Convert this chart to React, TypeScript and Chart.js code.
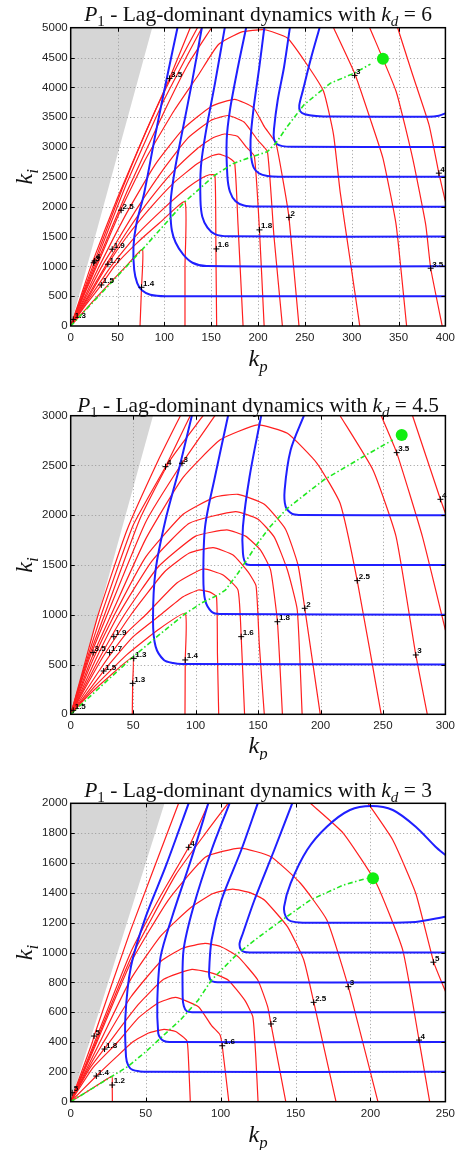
import React, { useEffect, useRef } from "react";
import { Chart, registerables } from "chart.js";

Chart.register(...registerables);

type Pt = [number, number];
type Lbl = [string, number, number];

// ================= Panel 1 : kd = 6 =================
const p1Kd = "6";
const p1XMax = 400;
const p1XStep = 50;
const p1YMax = 5000;
const p1YStep = 500;
const p1Grey: Pt[] = [[0, 0], [87, 5000]];
const p1Red: Pt[][] = [
  [[0, 0], [20, 350], [40, 690], [58.9, 1000], [76.6, 1285], [75.6, 649], [74, 0]],
  [[0, 0], [15, 330], [32.7, 688], [46.6, 1000], [70, 1380], [95, 1730], [122, 2084], [122, 1000], [122, 0]],
  [[0, 0], [20, 470], [43.1, 1000], [70, 1520], [100, 1980], [125, 2320], [140, 2480], [148, 2535], [154, 2528], [155, 1292], [155.8, 0]],
  [[0, 0], [20, 510], [39.6, 1035], [60, 1500], [85, 1980], [110, 2400], [135, 2720], [150, 2850], [158, 2880], [168, 2830], [175, 2737], [178.6, 1700], [184, 0]],
  [[0, 0], [18, 490], [36.8, 1000], [60, 1580], [85, 2130], [110, 2600], [135, 2970], [150, 3140], [164, 3218], [178, 3180], [187, 3006], [196, 2850], [201.5, 1611], [206.5, 0]],
  [[0, 0], [16, 480], [33.3, 1000], [44.3, 1287], [70, 1950], [100, 2650], [125, 3150], [150, 3450], [168, 3528], [185, 3420], [199.6, 3117], [210, 2922], [217, 1500], [226, 0]],
  [[0, 0], [15, 490], [30.5, 1000], [60, 1900], [90, 2700], [120, 3300], [150, 3680], [175, 3799], [195, 3660], [206.7, 3341], [219, 3061], [226, 2500], [233, 1820], [243.7, 0]],
  [[0, 0], [14, 510], [27.7, 1000], [53.8, 1958], [80, 2800], [110, 3600], [136.4, 4211], [157.5, 4715], [182, 4927], [206.8, 4966], [231.3, 4827], [252.4, 4379], [270, 3931], [280.6, 3205], [287.6, 2253], [298, 1136], [308.6, 0]],
  [[0, 0], [13.2, 500], [26.5, 1000], [60, 2250], [100, 3600], [125, 4380], [150.4, 5000]],
  [[280.6, 5000], [303, 4240], [320, 3460], [333.3, 2813], [347.4, 1695], [358.6, 0]],
  [[0, 0], [10.8, 500], [21.5, 1000], [50, 2150], [80, 3250], [105.5, 4150], [127.6, 5000]],
  [[319.2, 5000], [347.4, 3931], [365, 2813], [379, 1695], [384.3, 968], [396.6, 0]],
  [[0, 0], [11.7, 500], [23.5, 1000], [55, 2300], [90, 3600], [115, 4400], [135.3, 5000]],
  [[349, 5000], [365, 4211], [382.5, 3372], [393, 2562], [400, 2085]],
  [[0, 0], [12.5, 500], [25, 1000], [60, 2400], [100, 3800], [140, 5000]],
];
const p1Blue: Pt[][] = [
  [[114, 5000], [103, 4183], [90.7, 3233], [78.4, 2226], [70, 1700], [67, 1331], [67.8, 940], [71, 720], [76, 600], [85, 525], [101, 500], [400, 500]],
  [[140, 5000], [129.3, 4072], [118.8, 3233], [111.8, 2673], [107, 2150], [106.5, 1891], [108, 1600], [112, 1400], [120, 1200], [130, 1060], [145, 1005], [400, 1000]],
  [[164.5, 5000], [154, 4067], [144, 3229], [139, 2670], [138.5, 2112], [140.5, 1832], [146, 1650], [154, 1540], [168, 1503], [400, 1500]],
  [[187.3, 5000], [178.6, 4346], [170, 3620], [166.5, 3117], [167.3, 2503], [170, 2250], [176, 2090], [185, 2020], [198, 2003], [400, 2000]],
  [[206.7, 5000], [201.4, 4346], [195, 3620], [192, 3117], [192.6, 2838], [195.5, 2650], [201, 2560], [210, 2515], [222, 2503], [400, 2500]],
  [[234, 5000], [227.8, 4346], [221, 3788], [217, 3300], [217, 3140], [220, 3050], [226, 3015], [236, 3003], [400, 3000]],
  [[265.7, 5000], [256, 4458], [248, 3955], [244, 3700], [245, 3600], [250, 3550], [262, 3520], [280, 3510], [382, 3508], [393, 3525], [400, 3564]],
];
const p1Green: Pt[] = [[0, 0], [76.6, 1285], [122, 2084], [154, 2530], [174.4, 2730], [196, 2850], [210, 2922], [219, 3065], [231, 3340], [249, 3708], [277, 4067], [303, 4240], [320, 4390]];
const p1Dot: Pt = [333.3, 4480];
const p1Labels: Lbl[] = [
  ["1.4", 75.6, 649], ["1.6", 155.5, 1292], ["1.8", 201.5, 1611], ["2", 233, 1820], ["3", 303, 4200],
  ["4", 393, 2562], ["3.5", 384.3, 968], ["3.5", 105.5, 4150], ["2.5", 53.8, 1940], ["1.9", 44.3, 1287],
  ["1.7", 39.7, 1035], ["1.5", 32.7, 688], ["3", 24.5, 1060], ["4", 25.5, 1090], ["1.3", 2.7, 110],
];

// ================= Panel 2 : kd = 4.5 =================
const p2Kd = "4.5";
const p2XMax = 300;
const p2XStep = 50;
const p2YMax = 3000;
const p2YStep = 500;
const p2Grey: Pt[] = [[0, 0], [65.9, 3000]];
const p2Red: Pt[][] = [
  [[0, 0], [15, 200], [30, 370], [49.6, 573], [49.6, 311], [49.3, 0]],
  [[0, 0], [20, 290], [45, 600], [70, 850], [91.7, 1015], [91.7, 546], [91.5, 0]],
  [[0, 0], [26.4, 435], [50, 780], [72, 1000], [90, 1180], [102.3, 1249], [111, 1230], [116.7, 1182], [117.5, 600], [118.5, 0]],
  [[0, 0], [24, 460], [45, 820], [60.1, 1000], [85, 1320], [106, 1460], [122, 1400], [133.9, 1250], [136.5, 780], [139.2, 0]],
  [[0, 0], [25, 560], [48.2, 1000], [75, 1430], [95, 1620], [114, 1675], [130, 1600], [142, 1430], [148.4, 1290], [151, 700], [155, 0]],
  [[0, 0], [22, 540], [43, 1000], [70, 1480], [100, 1790], [125, 1852], [140, 1790], [152, 1650], [160, 1450], [165.5, 930], [169.5, 0]],
  [[0, 0], [20, 550], [38.2, 1000], [65, 1540], [95, 1920], [132, 2036], [150, 1960], [163, 1780], [173.5, 1450], [181.4, 1048], [185.3, 0]],
  [[0, 0], [17.5, 540], [35, 1000], [60, 1580], [90, 2010], [115, 2180], [134, 2210], [155, 2110], [172, 1860], [182, 1500], [187.4, 1065], [199.8, 0]],
  [[0, 0], [16, 540], [32.4, 1000], [60, 1760], [90, 2380], [120, 2760], [149.7, 2907], [173.5, 2823], [197.2, 2522], [215.7, 2120], [229.4, 1343], [248.6, 0]],
  [[0, 0], [14.6, 550], [29.2, 1000], [60, 1930], [89.1, 2522], [115.5, 3000]],
  [[215.7, 3000], [242, 2455], [260.5, 1785], [276.3, 596], [285.5, 0]],
  [[0, 0], [13.2, 530], [27.1, 1000], [55, 1950], [80, 2560], [106, 3000]],
  [[248.6, 3000], [261, 2629], [281.6, 1785], [300, 847]],
  [[0, 0], [12.2, 520], [24.5, 1000], [50, 1900], [75.9, 2488], [95.7, 3000]],
  [[273.7, 3000], [296, 2160], [300, 2020]],
  [[0, 0], [11, 500], [22, 1000], [45, 1850], [70, 2550], [87.8, 3000]],
];
const p2Blue: Pt[][] = [
  [[97, 3000], [86.5, 2455], [75.9, 1952], [68, 1450], [65.9, 948], [68, 680], [74.6, 546], [82, 515], [89.1, 506], [300, 500]],
  [[126, 3000], [115.5, 2387], [107.6, 1885], [106.2, 1382], [107.6, 1148], [112.8, 1031], [119.4, 1008], [300, 1000]],
  [[152.5, 3000], [143.2, 2387], [137.9, 1885], [137.9, 1618], [140.5, 1510], [146, 1501], [300, 1500]],
  [[186.7, 3000], [176.1, 2655], [171.3, 2254], [172.1, 2086], [177.4, 2013], [183, 2003], [300, 2000]],
];
const p2Green: Pt[] = [[0, 0], [25, 290], [49.6, 573], [70, 790], [91.7, 1010], [105, 1120], [118.1, 1199], [124, 1250], [133.9, 1417], [149.7, 1718], [160, 1890], [173.5, 2070], [202.5, 2354], [234.1, 2588], [257.8, 2756]];
const p2Dot: Pt = [265, 2805];
const p2Labels: Lbl[] = [
  ["1.3", 49.6, 311], ["1.3", 50.5, 562], ["1.4", 91.7, 546], ["1.6", 136.5, 780], ["1.8", 165.5, 930],
  ["2", 187.4, 1065], ["2.5", 229.4, 1343], ["3", 276.3, 596], ["3.5", 261, 2629], ["4", 296, 2160],
  ["4", 75.9, 2488], ["3", 89.1, 2522], ["3.5", 17.9, 620], ["1.7", 31.1, 620], ["1.5", 26.4, 435],
  ["1.9", 34.5, 780], ["1.5", 2, 40],
];

// ================= Panel 3 : kd = 3 =================
const p3Kd = "3";
const p3XMax = 250;
const p3XStep = 50;
const p3YMax = 2000;
const p3YStep = 200;
const p3Grey: Pt[] = [[0, 0], [62.6, 2000]];
const p3Red: Pt[][] = [
  [[0, 0], [10, 62], [20, 125], [27.5, 170], [27.7, 112], [27.8, 0]],
  [[0, 0], [17.1, 172], [30, 295], [41.3, 400], [52, 460], [62.2, 485], [70, 470], [77.5, 409], [78.5, 300], [79.8, 0]],
  [[0, 0], [15, 230], [31.4, 400], [45, 560], [58, 660], [69.9, 699], [85.2, 637], [94, 510], [99.5, 450], [101.1, 375], [105.5, 0]],
  [[0, 0], [12.5, 220], [25.9, 400], [45, 650], [62, 820], [80.9, 887], [95, 860], [105, 816], [116, 682], [121.5, 570], [123.5, 300], [125, 0]],
  [[0, 0], [11, 210], [22, 400], [40, 700], [60, 940], [75, 1030], [89.6, 1061], [100, 1040], [111.6, 972], [124.8, 816], [131.4, 637], [133.6, 521], [143.5, 0]],
  [[0, 0], [9.7, 200], [19.5, 400], [40, 820], [60, 1110], [80, 1300], [95, 1395], [108, 1425], [120, 1400], [129.2, 1352], [144.6, 1173], [155.5, 950], [162.1, 670], [177, 0]],
  [[0, 0], [8.8, 200], [17.5, 400], [40, 930], [65, 1350], [90, 1640], [113, 1700], [133.6, 1642], [153.3, 1464], [170.9, 1218], [185.2, 771], [205, 0]],
  [[0, 0], [8, 200], [16, 400], [40, 1000], [60, 1380], [78.7, 1705], [92, 2000]],
  [[159.9, 2000], [181.9, 1799], [203.9, 1464], [221.5, 1017], [232.4, 413], [239.5, 0]],
  [[0, 0], [7.2, 200], [14.5, 400], [15.6, 440], [40, 1150], [72, 2000]],
  [[198.4, 2000], [214.9, 1754], [230.2, 1397], [242.3, 932], [250, 740]],
  [[0, 0], [8.4, 200], [16.8, 400], [40, 960], [70, 1520], [90, 1800], [105, 2000]],
];
const p3Blue: Pt[][] = [
  [[78.7, 2000], [63.3, 1575], [50.1, 1240], [40.2, 905], [36.5, 570], [36.9, 302], [38.5, 240], [41.3, 213], [46, 203], [52, 200], [250, 200]],
  [[91.8, 2000], [80.9, 1642], [67.7, 1240], [60, 972], [57.8, 682], [58.4, 458], [60, 425], [62.2, 407], [66, 400], [250, 400]],
  [[106, 2000], [94, 1687], [81.9, 1307], [75.3, 1017], [74.7, 704], [75.5, 640], [77.5, 606], [81, 600], [250, 600]],
  [[124.8, 2000], [113.8, 1687], [100.6, 1352], [94, 1084], [92.3, 861], [93, 820], [94.5, 806], [98, 800], [250, 800]],
  [[147.8, 2000], [135.8, 1687], [122.6, 1352], [114.9, 1129], [112.7, 1062], [113.5, 1020], [116, 1003], [120, 1000], [250, 1000]],
  [[250, 1653], [243.4, 1709], [230.2, 1843], [214.9, 1955], [200.6, 1982], [186.3, 1955], [170.9, 1843], [157.7, 1687], [146.7, 1463], [142.4, 1307], [143.5, 1240], [146.7, 1210], [155, 1200], [200, 1200], [230, 1205], [250, 1240]],
];
const p3Green: Pt[] = [[0, 0], [13, 80], [27.5, 170], [38, 235], [50.1, 335], [62.2, 447], [73.2, 548], [85, 680], [94, 816], [111.6, 995], [125, 1100], [138, 1196], [159.9, 1352], [181.9, 1452], [197.3, 1497]];
const p3Dot: Pt = [201.7, 1497];
const p3Labels: Lbl[] = [
  ["1.2", 27.7, 112], ["1.4", 17.1, 172], ["1.8", 22.6, 353], ["5", 15.6, 440], ["4", 78.7, 1705],
  ["1.6", 101.1, 375], ["2", 133.6, 521], ["2.5", 162.1, 666], ["3", 185.2, 771], ["4", 232.4, 413],
  ["5", 242, 935], ["5", 1, 60],
];

// ================= rendering =================
type Seg = { t: string; it?: boolean; sub?: boolean };

interface PanelCfg {
  kd: string;
  xMax: number; xStep: number; yMax: number; yStep: number;
  grey: Pt[]; red: Pt[][]; blue: Pt[][]; green: Pt[]; dot: Pt; labels: Lbl[];
  top: number; height: number; plotTop: number; plotBottom: number;
  titleBase: number; titleWidth: number; kpBase: number;
}

const PLOT_LEFT = 70.7;
const PLOT_RIGHT = 450;
const SERIF = "'Liberation Serif', 'DejaVu Serif', serif";
const SANS = "'Liberation Sans', Arial, sans-serif";

const xy = (pts: Pt[]) => pts.map(([x, y]) => ({ x, y }));

function richWidth(ctx: CanvasRenderingContext2D, segs: Seg[], size: number) {
  let w = 0;
  for (const s of segs) {
    ctx.font = `${s.it ? "italic " : ""}${s.sub ? size * 0.7 : size}px ${SERIF}`;
    w += ctx.measureText(s.t).width;
  }
  return w;
}

function drawRich(ctx: CanvasRenderingContext2D, segs: Seg[], cx: number, base: number, size: number) {
  const w = richWidth(ctx, segs, size);
  let x = cx - w / 2;
  for (const s of segs) {
    ctx.font = `${s.it ? "italic " : ""}${s.sub ? size * 0.7 : size}px ${SERIF}`;
    ctx.fillText(s.t, x, base + (s.sub ? size * 0.25 : 0));
    x += ctx.measureText(s.t).width;
  }
}

function decor(cfg: PanelCfg) {
  return {
    id: "decor",
    afterDatasetDraw(chart: any, args: any) {
      if (args.index !== 0) return;
      const { ctx, chartArea: a } = chart;
      const sx = chart.scales.x, sy = chart.scales.y;
      ctx.save();
      ctx.strokeStyle = "#9a9a9a";
      ctx.lineWidth = 1;
      ctx.setLineDash([1, 2.5]);
      ctx.beginPath();
      for (let v = cfg.xStep; v < cfg.xMax; v += cfg.xStep) {
        const px = Math.round(sx.getPixelForValue(v)) + 0.5;
        ctx.moveTo(px, a.top); ctx.lineTo(px, a.bottom);
      }
      for (let v = cfg.yStep; v < cfg.yMax; v += cfg.yStep) {
        const py = Math.round(sy.getPixelForValue(v)) + 0.5;
        ctx.moveTo(a.left, py); ctx.lineTo(a.right, py);
      }
      ctx.stroke();
      ctx.restore();
    },
    afterDatasetsDraw(chart: any) {
      const { ctx, chartArea: a } = chart;
      const sx = chart.scales.x, sy = chart.scales.y;
      ctx.save();
      ctx.fillStyle = "#000";
      ctx.font = `bold 8px ${SANS}`;
      ctx.textBaseline = "alphabetic";
      ctx.textAlign = "left";
      for (const [t, lx, ly] of cfg.labels) {
        const px = sx.getPixelForValue(lx), py = sy.getPixelForValue(ly);
        ctx.fillText(t, px + 1.5, py - 1.5);
      }
      ctx.strokeStyle = "#000";
      ctx.lineWidth = 1.5;
      ctx.strokeRect(a.left, a.top, a.right - a.left, a.bottom - a.top);
      ctx.lineWidth = 1;
      ctx.beginPath();
      for (let v = cfg.xStep; v < cfg.xMax; v += cfg.xStep) {
        const px = Math.round(sx.getPixelForValue(v)) + 0.5;
        ctx.moveTo(px, a.bottom); ctx.lineTo(px, a.bottom - 4);
        ctx.moveTo(px, a.top); ctx.lineTo(px, a.top + 4);
      }
      for (let v = cfg.yStep; v < cfg.yMax; v += cfg.yStep) {
        const py = Math.round(sy.getPixelForValue(v)) + 0.5;
        ctx.moveTo(a.left, py); ctx.lineTo(a.left + 4, py);
        ctx.moveTo(a.right, py); ctx.lineTo(a.right - 4, py);
      }
      ctx.stroke();
      ctx.restore();
    },
    afterDraw(chart: any) {
      const { ctx, chartArea: a } = chart;
      ctx.save();
      ctx.fillStyle = "#111";
      ctx.textAlign = "left";
      ctx.textBaseline = "alphabetic";
      const title: Seg[] = [
        { t: "P", it: true }, { t: "1", sub: true },
        { t: " - Lag-dominant dynamics with " },
        { t: "k", it: true }, { t: "d", it: true, sub: true },
        { t: " = " + cfg.kd },
      ];
      const w0 = richWidth(ctx, title, 20);
      const size = (20 * cfg.titleWidth) / w0;
      const cx = (a.left + a.right) / 2;
      drawRich(ctx, title, cx, cfg.titleBase, size);
      drawRich(ctx, [{ t: "k", it: true }, { t: "p", it: true, sub: true }], cx, cfg.kpBase, 24);
      ctx.translate(32, (a.top + a.bottom) / 2);
      ctx.rotate(-Math.PI / 2);
      drawRich(ctx, [{ t: "k", it: true }, { t: "i", it: true, sub: true }], 0, 0, 24);
      ctx.restore();
    },
  };
}

function Panel({ cfg }: { cfg: PanelCfg }) {
  const ref = useRef<HTMLCanvasElement>(null);
  useEffect(() => {
    const canvas = ref.current!;
    const datasets: any[] = [];
    datasets.push({
      data: xy(cfg.grey), showLine: true, fill: "end", backgroundColor: "#d6d6d6",
      borderWidth: 0, borderColor: "rgba(0,0,0,0)", pointRadius: 0, order: 100,
    });
    for (const c of cfg.red) {
      datasets.push({ data: xy(c), showLine: true, borderColor: "#ff1f1f", borderWidth: 1.2, tension: 0.15, pointRadius: 0, fill: false, order: 60 });
    }
    for (const c of cfg.blue) {
      datasets.push({ data: xy(c), showLine: true, borderColor: "#1f1fff", borderWidth: 2, tension: 0.3, pointRadius: 0, fill: false, order: 50 });
    }
    datasets.push({
      data: xy(cfg.green), showLine: true, borderColor: "#22e822", borderWidth: 1.6,
      borderDash: [5, 2.5, 1.5, 2.5], pointRadius: 0, fill: false, order: 40,
    });
    datasets.push({
      data: xy([cfg.dot]), showLine: false, pointRadius: 6, backgroundColor: "#11ee11",
      borderColor: "#11ee11", borderWidth: 0, order: 30,
    });
    datasets.push({
      data: xy(cfg.labels.map((l) => [l[1], l[2]] as Pt)), showLine: false, pointStyle: "cross",
      pointRadius: 3, borderColor: "#000", borderWidth: 1, order: 20,
    });
    const tickFont = { family: SANS, size: 11.5 };
    const chart = new Chart(canvas, {
      type: "scatter",
      data: { datasets },
      options: {
        responsive: false,
        animation: false,
        devicePixelRatio: 1,
        events: [],
        layout: { padding: { top: cfg.plotTop, right: 460 - PLOT_RIGHT, bottom: 0, left: 0 } },
        plugins: { legend: { display: false }, tooltip: { enabled: false }, title: { display: false } },
        scales: {
          x: {
            type: "linear", min: 0, max: cfg.xMax,
            grid: { display: false, drawTicks: false },
            border: { display: false },
            ticks: { stepSize: cfg.xStep, padding: 5, color: "#222", font: tickFont, maxRotation: 0, autoSkip: false, callback: (v: any) => String(v) },
            afterFit: (s: any) => { s.height = cfg.height - cfg.plotBottom; },
          },
          y: {
            type: "linear", min: 0, max: cfg.yMax,
            grid: { display: false, drawTicks: false },
            border: { display: false },
            ticks: { stepSize: cfg.yStep, padding: 3, color: "#222", font: tickFont, autoSkip: false, callback: (v: any) => String(v) },
            afterFit: (s: any) => { s.width = PLOT_LEFT; },
          },
        },
      } as any,
      plugins: [decor(cfg) as any],
    });
    return () => chart.destroy();
  }, [cfg]);
  return (
    <canvas
      ref={ref}
      width={460}
      height={cfg.height}
      style={{ position: "absolute", left: 0, top: cfg.top, width: 460, height: cfg.height }}
    />
  );
}

const panel1: PanelCfg = {
  kd: p1Kd, xMax: p1XMax, xStep: p1XStep, yMax: p1YMax, yStep: p1YStep,
  grey: p1Grey, red: p1Red, blue: p1Blue, green: p1Green, dot: p1Dot, labels: p1Labels,
  top: 0, height: 380, plotTop: 27.7, plotBottom: 326, titleBase: 20.7, titleWidth: 348, kpBase: 366,
};
const panel2: PanelCfg = {
  kd: p2Kd, xMax: p2XMax, xStep: p2XStep, yMax: p2YMax, yStep: p2YStep,
  grey: p2Grey, red: p2Red, blue: p2Blue, green: p2Green, dot: p2Dot, labels: p2Labels,
  top: 370, height: 390, plotTop: 45.7, plotBottom: 344.3, titleBase: 41.7, titleWidth: 362, kpBase: 383,
};
const panel3: PanelCfg = {
  kd: p3Kd, xMax: p3XMax, xStep: p3XStep, yMax: p3YMax, yStep: p3YStep,
  grey: p3Grey, red: p3Red, blue: p3Blue, green: p3Green, dot: p3Dot, labels: p3Labels,
  top: 750, height: 400, plotTop: 53.3, plotBottom: 351.7, titleBase: 46.7, titleWidth: 348, kpBase: 391.7,
};

export default function App() {
  return (
    <div style={{ position: "absolute", left: 0, top: 0, width: 460, height: 1150, background: "#fff", overflow: "hidden" }}>
      <Panel cfg={panel1} />
      <Panel cfg={panel2} />
      <Panel cfg={panel3} />
    </div>
  );
}
